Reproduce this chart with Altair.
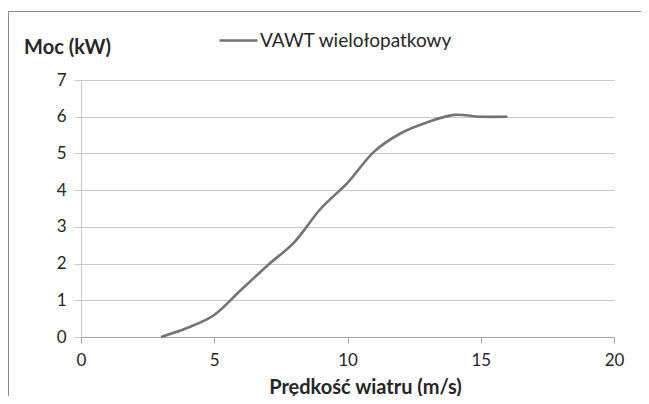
import altair as alt
import pandas as pd

wind_speed = [3, 4, 5, 6, 7, 8, 9, 10, 11, 12, 13, 14, 15, 16]
power_kw = [0.0, 0.25, 0.6, 1.28, 1.95, 2.58, 3.5, 4.2, 5.05, 5.55, 5.85, 6.05, 6.0, 6.0]
series_name = "VAWT wielołopatkowy"
x_ticks = [0, 5, 10, 15, 20]
y_ticks = [0, 1, 2, 3, 4, 5, 6, 7]

df = pd.DataFrame({"v": wind_speed, "p": power_kw, "s": [series_name] * len(wind_speed)})

FONT = "Lato"
W, H = 533, 257
PL, PT, PR, PB = 73, 72, 27, 59

line = alt.Chart(df).mark_line(interpolate="catmull-rom", strokeWidth=2.6).encode(
    x=alt.X("v:Q", scale=alt.Scale(domain=[0, 20], nice=False),
            axis=alt.Axis(values=x_ticks, title="Prędkość wiatru (m/s)", grid=False,
                          domainColor="#a6a6a6", tickColor="#a6a6a6", tickSize=6,
                          labelPadding=9, labelFontSize=17, labelColor="#262626", labelFlush=False,
                          titleFontSize=20, titleFontWeight="bold", titleColor="#262626",
                          titleX=284, titleY=50, titleBaseline="middle", titleAlign="center")),
    y=alt.Y("p:Q", scale=alt.Scale(domain=[0, 7], nice=False),
            axis=alt.Axis(values=y_ticks, title="Moc (kW)", grid=True, gridColor="#c8c8c8",
                          domainColor="#c8c8c8", tickColor="#c8c8c8", tickSize=7,
                          labelPadding=8, labelFontSize=17, labelColor="#262626",
                          titleFontSize=20, titleFontWeight="bold", titleColor="#262626",
                          titleAngle=0, titleX=-14, titleY=-33, titleBaseline="middle",
                          titleAlign="center")),
    color=alt.Color("s:N", scale=alt.Scale(range=["#737373"]),
                    legend=alt.Legend(title=None, orient="none", legendX=137, legendY=-60,
                                      symbolType="stroke", symbolSize=1444, symbolStrokeWidth=2.6,
                                      labelFontSize=19, labelColor="#262626", labelFont=FONT,
                                      labelLimit=0, padding=0, labelOffset=1)),
)

border_df = pd.DataFrame({"a": [0]})
border = alt.Chart(border_df).mark_rect(fill=None, stroke="#8c8c8c", strokeWidth=1, clip=False).encode(
    x=alt.value(-72.5), x2=alt.value(W + PR + 10), y=alt.value(-68.5), y2=alt.value(H + PB + 10)
)

chart = alt.layer(border, line).properties(
    width=W, height=H,
    autosize=alt.AutoSizeParams(type="none"),
    padding={"left": PL, "top": PT, "right": PR, "bottom": PB},
).configure(font=FONT).configure_view(stroke=None).configure_axis(labelFont=FONT, titleFont=FONT)

chart.save("out.html", embed_options={"renderer": "svg", "actions": False})
